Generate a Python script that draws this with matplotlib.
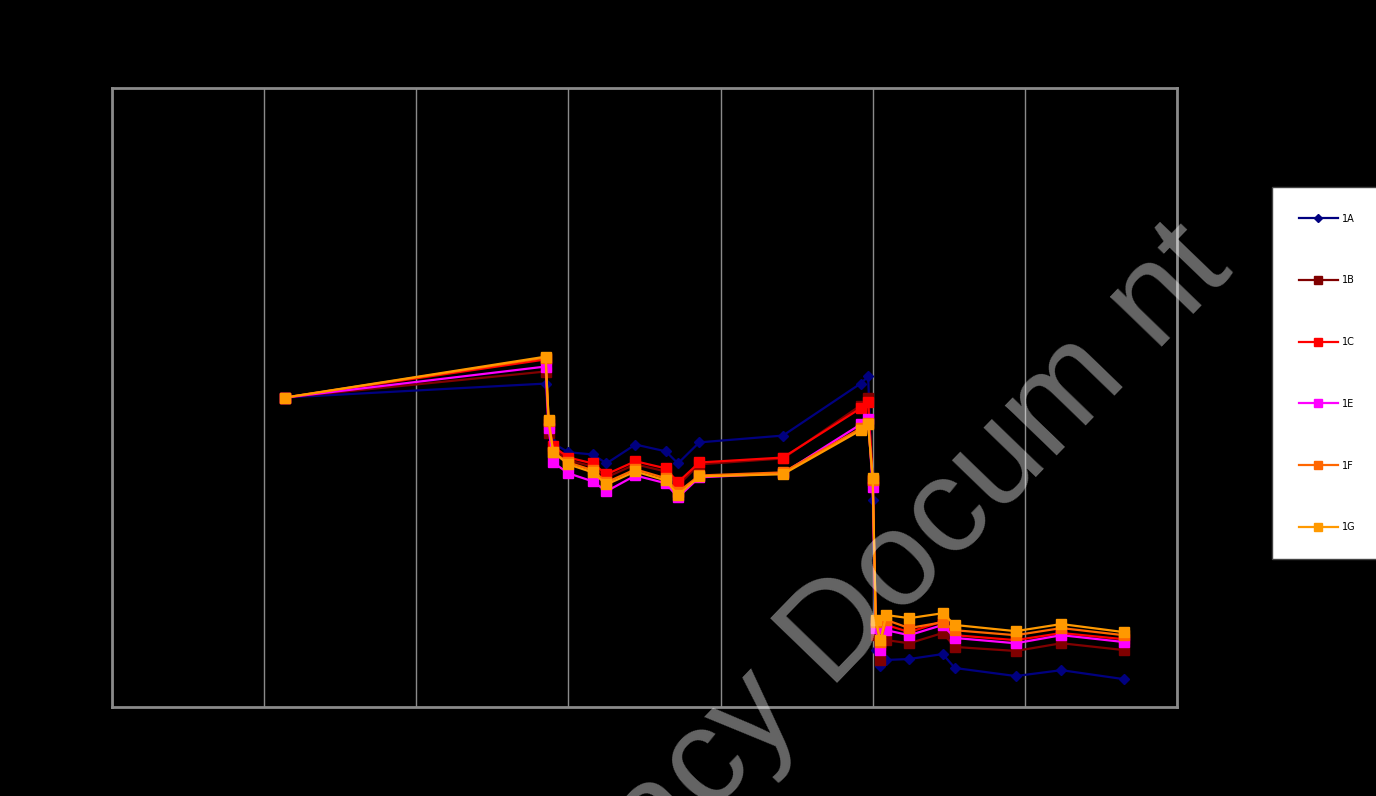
import numpy as np
import matplotlib
matplotlib.use("Agg")
import matplotlib.pyplot as plt

# Sample positions (shared by all series)
x_vals = [1.14, 2.85, 2.87, 2.90, 3.00, 3.16, 3.25, 3.44, 3.64, 3.72, 3.86, 4.41,
          4.92, 4.97, 5.00, 5.02, 5.05, 5.09, 5.24, 5.46, 5.54, 5.94, 6.24, 6.65]

s_1A = [0, 4.5, -9.0, -14.8, -17.7, -18.4, -21.3, -15.2, -17.4, -21.3, -14.5, -12.3,
        4.5, 6.8, -33.2, -81.6, -86.8, -84.8, -84.5, -82.9, -87.4, -90.0, -88.1, -91.0]
s_1B = [0, 8.4, -11.6, -16.5, -20.3, -22.3, -25.8, -21.6, -23.9, -28.4, -21.6, -19.7,
        -2.6, 0.0, -27.4, -76.8, -84.8, -78.4, -79.4, -76.1, -80.6, -81.9, -79.4, -81.6]
s_1C = [0, 12.3, -8.7, -15.8, -19.4, -21.3, -24.8, -20.6, -22.9, -27.4, -21.0, -19.4,
        -3.5, -1.6, -26.8, -73.5, -80.0, -73.5, -75.8, -72.3, -76.8, -78.4, -76.1, -78.1]
s_1E = [0, 10.0, -10.0, -21.0, -24.5, -27.1, -30.3, -25.2, -27.7, -32.3, -25.8, -24.5,
        -8.7, -6.8, -29.0, -74.5, -81.6, -75.2, -76.8, -73.5, -77.7, -79.4, -76.8, -79.0]
s_1F = [0, 12.9, -7.7, -17.7, -21.0, -23.5, -27.4, -23.2, -26.1, -30.6, -25.2, -24.2,
        -10.0, -8.4, -26.5, -72.6, -79.0, -71.9, -74.5, -72.6, -75.2, -76.8, -74.5, -76.8]
s_1G = [0, 13.2, -7.4, -17.7, -21.6, -24.2, -28.1, -23.9, -26.8, -31.6, -25.5, -24.8,
        -10.6, -8.7, -26.1, -71.9, -78.4, -70.3, -71.3, -69.7, -73.5, -75.5, -73.2, -75.8]

labels = ["1A", "1B", "1C", "1E", "1F", "1G"]
series = [s_1A, s_1B, s_1C, s_1E, s_1F, s_1G]
colors = ["#000080", "#800000", "#FF0000", "#FF00FF", "#FF6600", "#FF9900"]
markers = ["D", "s", "s", "s", "s", "s"]
msizes = [5, 7, 7, 7, 7, 7]

fig = plt.figure(figsize=(13.76, 7.96), dpi=100, facecolor="black")
ax = fig.add_axes([112 / 1376, 89 / 796, 1065 / 1376, 619 / 796])
ax.set_facecolor("black")

for lab, ys, c, m, ms in zip(labels, series, colors, markers, msizes):
    ax.plot(x_vals, ys, color=c, marker=m, markersize=ms, linewidth=1.6,
            markeredgecolor=c, label=lab)

ax.set_xlim(0, 7)
ax.set_ylim(-100, 100)
ax.set_xticks(np.arange(0, 8, 1))
ax.set_yticks([])
ax.grid(axis="x", color="#8a8a8a", linewidth=1)
ax.tick_params(axis="x", colors="black", labelcolor="black", length=0)
for sp in ax.spines.values():
    sp.set_color("#8a8a8a")
    sp.set_linewidth(2)

leg = fig.legend(loc="upper left", bbox_to_anchor=(1272 / 1376, 1 - 187 / 796),
                 borderaxespad=0, frameon=True, fancybox=False, fontsize=7,
                 handlelength=4.0, handletextpad=0.4, labelspacing=5.32,
                 borderpad=2.75, markerscale=0.9)
leg.get_frame().set_facecolor("white")
leg.get_frame().set_edgecolor("#444444")
leg.get_frame().set_linewidth(1)
leg.get_frame().set_alpha(1)

fig.text(842 / 1376, 1 - 628 / 796, "Legacy Docum nt", rotation=46,
         rotation_mode="anchor", ha="center", va="center", fontsize=98,
         family="Liberation Sans", color="white", alpha=0.4)

fig.savefig("out.png", dpi=100, facecolor="black")
